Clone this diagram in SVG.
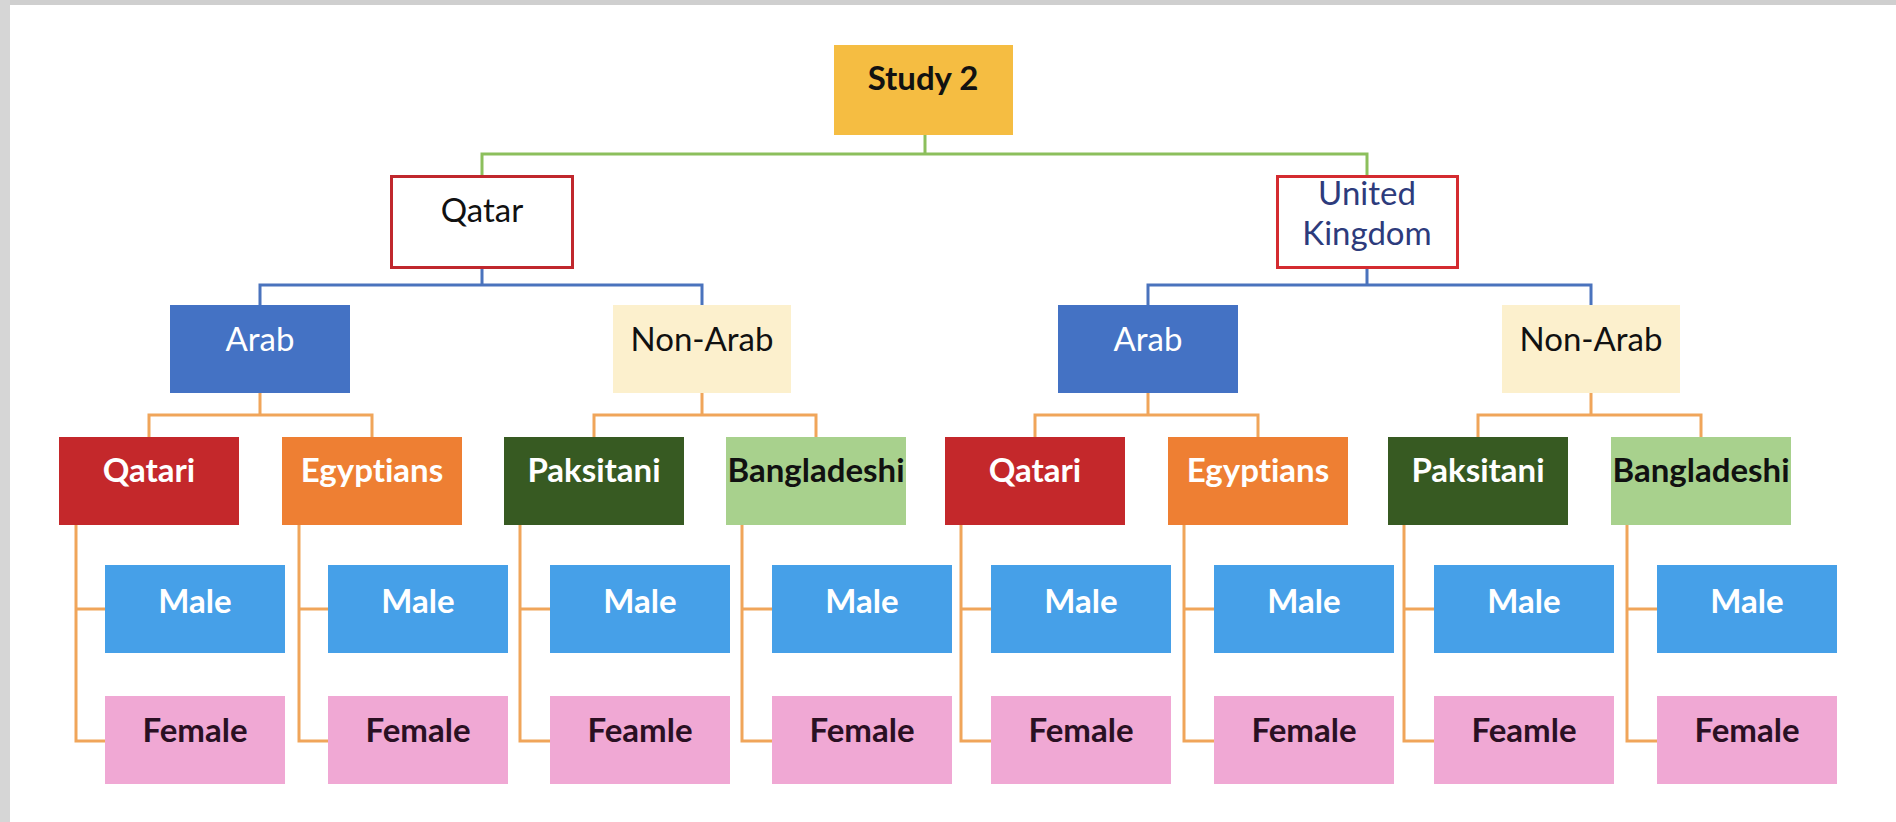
<svg xmlns="http://www.w3.org/2000/svg" width="1896" height="822" viewBox="0 0 1896 822">
<style>
  text { font-family: Lato, "Liberation Sans", sans-serif; font-size: 33px; text-anchor: middle; font-variant-ligatures: none; font-feature-settings: "liga" 0; }
  .b { font-weight: bold; }
  .w { fill: #ffffff; }
  .k { fill: #111111; }
  .conn { fill: none; stroke-width: 3; stroke-linejoin: miter; stroke-linecap: butt; }
  .g { stroke: #8cbf5c; }
  .bl { stroke: #4a73bd; }
  .o { stroke: #f0a55a; }
</style>
<rect x="0" y="0" width="1896" height="822" fill="#ffffff"/>
<rect x="0" y="0" width="1896" height="5" fill="#cfcfcf"/>
<rect x="0" y="0" width="10" height="822" fill="#d6d6d6"/>

<g id="connectors">
  <path class="conn g" d="M925 135 V154 M482 175 V154 H1367 V175"/>
  <path class="conn bl" d="M482 268 V285 M260 305 V285 H702 V305"/>
  <path class="conn bl" d="M1367 268 V285 M1148 305 V285 H1591 V305"/>
  <path class="conn o" d="M260 393 V415 M149 437 V415 H372 V437"/>
  <path class="conn o" d="M702 393 V415 M594 437 V415 H816 V437"/>
  <path class="conn o" d="M1148 393 V415 M1035 437 V415 H1258 V437"/>
  <path class="conn o" d="M1591 393 V415 M1478 437 V415 H1701 V437"/>
  <path class="conn o" d="M76 525 V741 H105 M76 609 H105"/>
  <path class="conn o" d="M299 525 V741 H328 M299 609 H328"/>
  <path class="conn o" d="M520 525 V741 H550 M520 609 H550"/>
  <path class="conn o" d="M742 525 V741 H772 M742 609 H772"/>
  <path class="conn o" d="M961 525 V741 H991 M961 609 H991"/>
  <path class="conn o" d="M1184 525 V741 H1214 M1184 609 H1214"/>
  <path class="conn o" d="M1404 525 V741 H1434 M1404 609 H1434"/>
  <path class="conn o" d="M1627 525 V741 H1657 M1627 609 H1657"/>
</g>

<g id="study2"><rect x="834" y="45" width="179" height="90" fill="#f5bd42"/><text x="923" y="90" class="b k">Study 2</text></g>

<g id="qatar"><rect x="391.5" y="176.5" width="181" height="91" fill="#ffffff" stroke="#c0272d" stroke-width="3"/><text x="482" y="222" class="k">Qatar</text></g>
<g id="uk"><rect x="1277.5" y="176.5" width="180" height="91" fill="#ffffff" stroke="#d42b30" stroke-width="3"/><text x="1367" y="205" fill="#2d3b7c">United</text><text x="1367" y="245" fill="#2d3b7c">Kingdom</text></g>

<g id="arab-q"><rect x="170" y="305" width="180" height="88" fill="#4472c4"/><text x="260" y="351" class="w">Arab</text></g>
<g id="nonarab-q"><rect x="613" y="305" width="178" height="88" fill="#fcf0cd"/><text x="702" y="351" class="k">Non-Arab</text></g>
<g id="arab-uk"><rect x="1058" y="305" width="180" height="88" fill="#4472c4"/><text x="1148" y="351" class="w">Arab</text></g>
<g id="nonarab-uk"><rect x="1502" y="305" width="178" height="88" fill="#fcf0cd"/><text x="1591" y="351" class="k">Non-Arab</text></g>

<g id="qatari-q"><rect x="59" y="437" width="180" height="88" fill="#c4282b"/><text x="149" y="482" class="b w">Qatari</text></g>
<g id="egyptians-q"><rect x="282" y="437" width="180" height="88" fill="#ee7f33"/><text x="372" y="482" class="b w">Egyptians</text></g>
<g id="paksitani-q"><rect x="504" y="437" width="180" height="88" fill="#375a22"/><text x="594" y="482" class="b w">Paksitani</text></g>
<g id="bangladeshi-q"><rect x="726" y="437" width="180" height="88" fill="#a8d18d"/><text x="816" y="482" class="b k">Bangladeshi</text></g>
<g id="qatari-uk"><rect x="945" y="437" width="180" height="88" fill="#c4282b"/><text x="1035" y="482" class="b w">Qatari</text></g>
<g id="egyptians-uk"><rect x="1168" y="437" width="180" height="88" fill="#ee7f33"/><text x="1258" y="482" class="b w">Egyptians</text></g>
<g id="paksitani-uk"><rect x="1388" y="437" width="180" height="88" fill="#375a22"/><text x="1478" y="482" class="b w">Paksitani</text></g>
<g id="bangladeshi-uk"><rect x="1611" y="437" width="180" height="88" fill="#a8d18d"/><text x="1701" y="482" class="b k">Bangladeshi</text></g>

<g id="male-1"><rect x="105" y="565" width="180" height="88" fill="#46a0e8"/><text x="195" y="613" class="b w">Male</text></g>
<g id="female-1"><rect x="105" y="696" width="180" height="88" fill="#f0a8d4"/><text x="195" y="742" class="b" fill="#2a1023">Female</text></g>
<g id="male-2"><rect x="328" y="565" width="180" height="88" fill="#46a0e8"/><text x="418" y="613" class="b w">Male</text></g>
<g id="female-2"><rect x="328" y="696" width="180" height="88" fill="#f0a8d4"/><text x="418" y="742" class="b" fill="#2a1023">Female</text></g>
<g id="male-3"><rect x="550" y="565" width="180" height="88" fill="#46a0e8"/><text x="640" y="613" class="b w">Male</text></g>
<g id="female-3"><rect x="550" y="696" width="180" height="88" fill="#f0a8d4"/><text x="640" y="742" class="b" fill="#2a1023">Feamle</text></g>
<g id="male-4"><rect x="772" y="565" width="180" height="88" fill="#46a0e8"/><text x="862" y="613" class="b w">Male</text></g>
<g id="female-4"><rect x="772" y="696" width="180" height="88" fill="#f0a8d4"/><text x="862" y="742" class="b" fill="#2a1023">Female</text></g>
<g id="male-5"><rect x="991" y="565" width="180" height="88" fill="#46a0e8"/><text x="1081" y="613" class="b w">Male</text></g>
<g id="female-5"><rect x="991" y="696" width="180" height="88" fill="#f0a8d4"/><text x="1081" y="742" class="b" fill="#2a1023">Female</text></g>
<g id="male-6"><rect x="1214" y="565" width="180" height="88" fill="#46a0e8"/><text x="1304" y="613" class="b w">Male</text></g>
<g id="female-6"><rect x="1214" y="696" width="180" height="88" fill="#f0a8d4"/><text x="1304" y="742" class="b" fill="#2a1023">Female</text></g>
<g id="male-7"><rect x="1434" y="565" width="180" height="88" fill="#46a0e8"/><text x="1524" y="613" class="b w">Male</text></g>
<g id="female-7"><rect x="1434" y="696" width="180" height="88" fill="#f0a8d4"/><text x="1524" y="742" class="b" fill="#2a1023">Feamle</text></g>
<g id="male-8"><rect x="1657" y="565" width="180" height="88" fill="#46a0e8"/><text x="1747" y="613" class="b w">Male</text></g>
<g id="female-8"><rect x="1657" y="696" width="180" height="88" fill="#f0a8d4"/><text x="1747" y="742" class="b" fill="#2a1023">Female</text></g>
</svg>
